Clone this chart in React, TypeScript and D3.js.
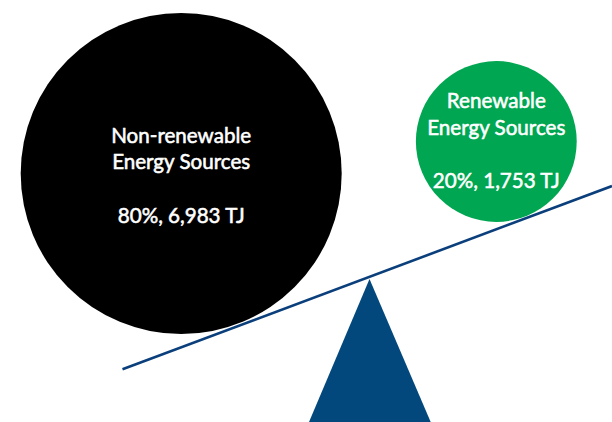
import React from "react";
import * as d3 from "d3";

const categories = ["Non-renewable", "Renewable"];
const labelLines = [
  ["Non-renewable", "Energy Sources"],
  ["Renewable", "Energy Sources"],
];
const percents = [80, 20];
const valuesTJ = [6983, 1753];
const colors = ["#000000", "#00a651"];

const W = 612;
const H = 422;

export default function App() {
  const rScale = d3.scaleSqrt().domain([0, d3.max(valuesTJ) as number]).range([0, 160.5]);
  const centers: [number, number][] = [
    [181.2, 173.5],
    [496.3, 141.5],
  ];
  const fmt = d3.format(",");
  const lineStart: [number, number] = [122.5, 369.3];
  const lineEnd: [number, number] = [612, 186];
  const tri: [number, number][] = [
    [369.5, 279],
    [309, 422],
    [430.7, 422],
  ];
  const lineGen = d3.line();
  return (
    <svg
      width={W}
      height={H}
      style={{ position: "absolute", left: 0, top: 0, background: "#fff" }}
    >
      {categories.map((c, i) => {
        const [cx, cy] = centers[i];
        const r = rScale(valuesTJ[i]);
        const top = i === 0 ? 142.7 : 108.3;
        const gap = 26.5;
        const valY = i === 0 ? 222.7 : 188.3;
        return (
          <g key={c}>
            <circle cx={cx} cy={cy} r={r} fill={colors[i]} />
            <g
              fill="#ffffff"
              stroke="#ffffff"
              strokeWidth={0.55}
              fontFamily="Lato, 'Open Sans', sans-serif"
              fontWeight={400}
              fontSize={20.6}
              textAnchor="middle"
            >
              {labelLines[i].map((t, j) => (
                <text key={j} x={cx} y={top + j * gap}>
                  {t}
                </text>
              ))}
              <text x={cx} y={valY}>
                {`${percents[i]}%, ${fmt(valuesTJ[i])} TJ`}
              </text>
            </g>
          </g>
        );
      })}
      <path d={lineGen([lineStart, lineEnd]) as string} stroke="#0b3f7c" strokeWidth={2.6} fill="none" />
      <path d={(lineGen(tri) as string) + "Z"} fill="#03487c" />
    </svg>
  );
}
